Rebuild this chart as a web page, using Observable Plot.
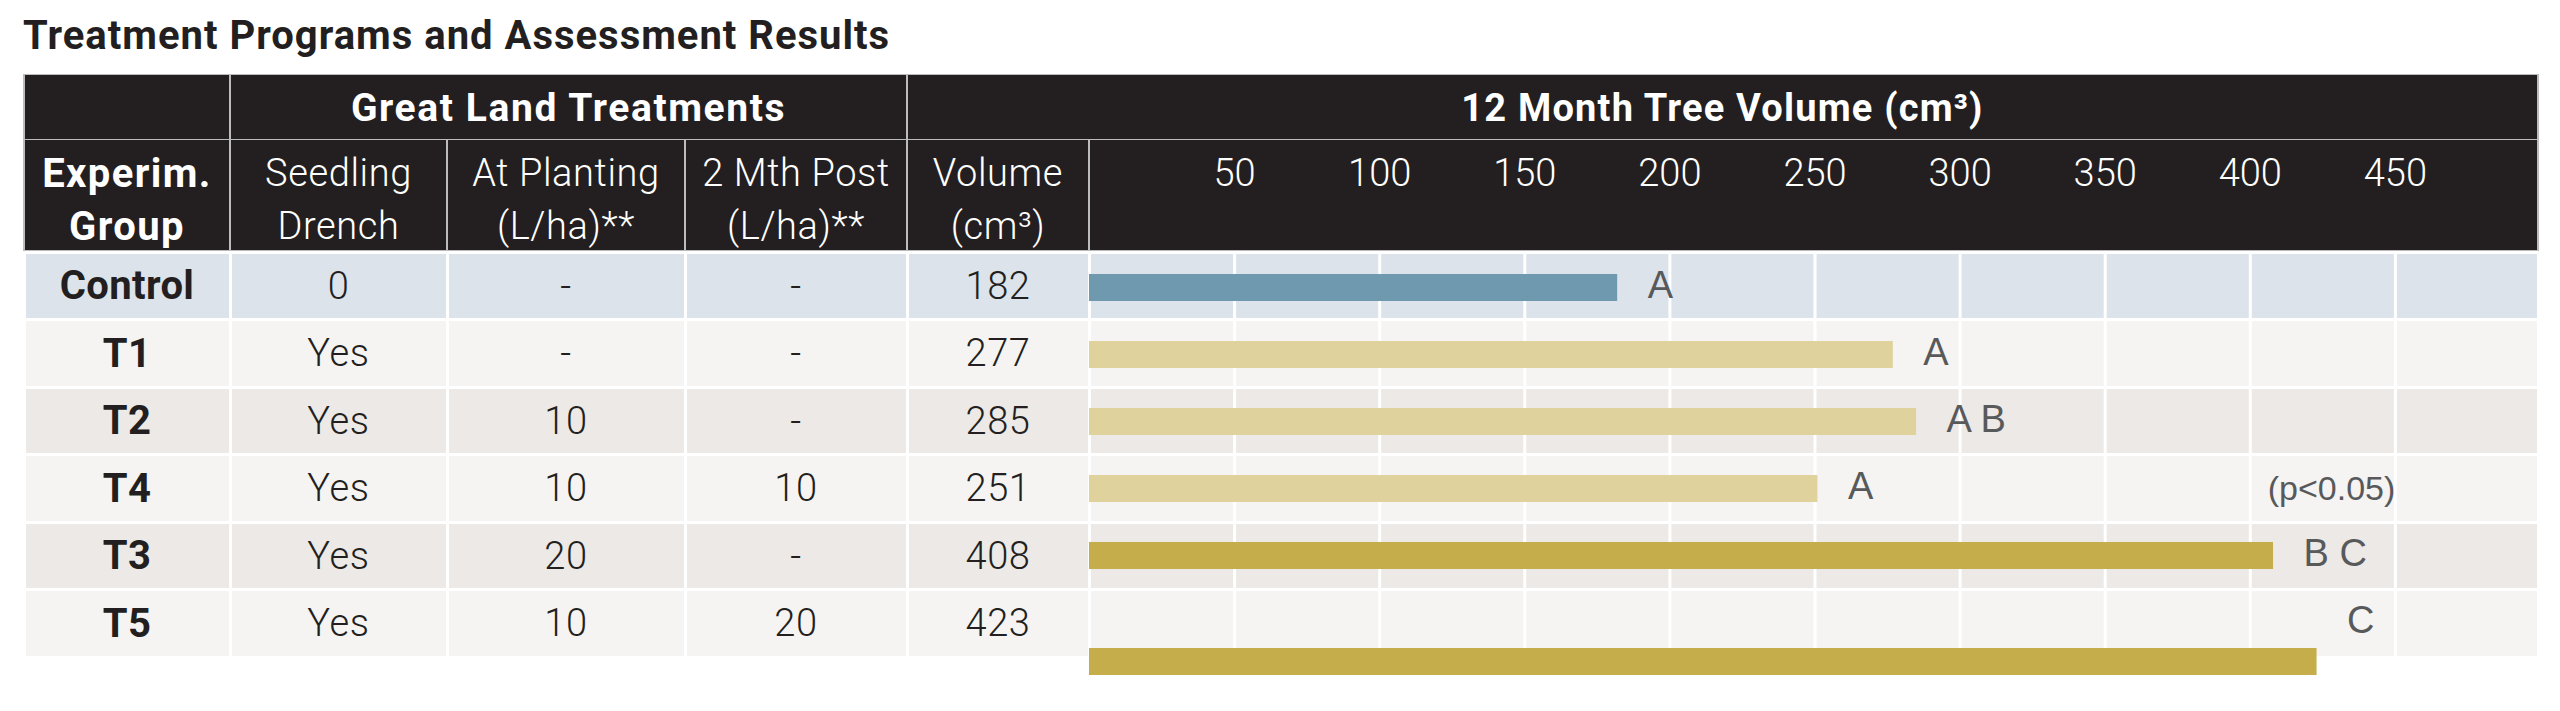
<!DOCTYPE html>
<html>
<head>
<meta charset="utf-8">
<script src="https://cdn.jsdelivr.net/npm/d3@7"></script>
<script src="https://cdn.jsdelivr.net/npm/@observablehq/plot@0.6"></script>
<style>
  html, body { margin: 0; padding: 0; background: #ffffff; }
  body { width: 2560px; height: 711px; position: relative; overflow: hidden; font-family: Roboto, "Open Sans", sans-serif; }
  .abs { position: absolute; box-sizing: border-box; }
  .cell { display: flex; align-items: center; justify-content: center; text-align: center; white-space: nowrap; }
  .hdr { background: #231f20; color: #ffffff; }
  .bold { font-weight: 700; }
  .light { font-weight: 300; letter-spacing: 0.6px; }
  .lines { line-height: 53px; padding-top: 10px; }
</style>
</head>
<body>
<div id="title" class="abs bold" style="left:23px; top:16px; font-size:40px; line-height:40px; letter-spacing:1px; color:#231f20; white-space:nowrap;">Treatment Programs and Assessment Results</div>
<div id="table"></div>
<script>
// ---------------- data ----------------
const groups        = ["Control", "T1", "T2", "T4", "T3", "T5"];
const seedlingDrench = ["0", "Yes", "Yes", "Yes", "Yes", "Yes"];
const atPlanting    = ["-", "-", "10", "10", "20", "10"];
const twoMthPost    = ["-", "-", "-", "10", "-", "20"];
const volume        = [182, 277, 285, 251, 408, 423];
const sigLetters    = ["A", "A", "A B", "A", "B C", "C"];
const tiers         = ["control", "standard", "standard", "standard", "high", "high"];
const xTickLabels   = [50, 100, 150, 200, 250, 300, 350, 400, 450];
const gridTicks     = [0, 50, 100, 150, 200, 250, 300, 350, 400, 450];
const pNote         = {text: "(p<0.05)", x: 428, group: "T4"};

const headerTop = ["", "Great Land Treatments", "12 Month Tree Volume (cm³)"];
const headerCols = [
  ["Experim.", "Group"],
  ["Seedling", "Drench"],
  ["At Planting", "(L/ha)**"],
  ["2 Mth Post", "(L/ha)**"],
  ["Volume", "(cm³)"]
];

// ---------------- layout ----------------
const colEdges = [24, 230, 447, 685, 907, 1089, 2538];
const hTop = 75, hMid = 139, hBot = 250;
const rowTop = 252, rowBottom = 657, H = 711, W = 2560;
const rowPitch = (rowBottom - rowTop) / groups.length;
const rowBg = ["#dce3ea", "#f5f4f2", "#ece9e6", "#f5f4f2", "#ece9e6", "#f5f4f2"];

const rows = groups.map((g, i) => ({
  group: g, drench: seedlingDrench[i], planting: atPlanting[i], post: twoMthPost[i],
  volume: volume[i], letters: sigLetters[i], tier: tiers[i]
}));

const table = document.getElementById("table");
function box(cls, left, top, width, height, styles, html) {
  const d = document.createElement("div");
  d.className = "abs " + cls;
  Object.assign(d.style, {left: left + "px", top: top + "px", width: width + "px", height: height + "px"}, styles || {});
  if (html != null) d.innerHTML = html;
  table.appendChild(d);
  return d;
}

// header backdrop (grey rules)
box("", colEdges[0] - 1, hTop - 1, colEdges[6] - colEdges[0] + 2, hBot - hTop + 2, {background: "#bdbcbc"});
// header row 1
const topSpans = [[0, 1], [1, 4], [4, 6]];
topSpans.forEach(([a, b], k) => {
  box("cell hdr bold", colEdges[a] + 1, hTop, colEdges[b] - colEdges[a] - 2, hMid - hTop,
      {fontSize: k === 1 ? "39px" : "38px", letterSpacing: k === 1 ? "1.6px" : "1.2px", paddingTop: "2px"}, headerTop[k]);
});
// header row 2
for (let c = 0; c < 6; c++) {
  const html = c < 5 ? headerCols[c].join("<br>") : "";
  const st = c === 0 ? {fontSize: "40px", letterSpacing: "1.4px"} : {fontSize: "38px"};
  box("cell hdr lines " + (c === 0 ? "bold" : "light"), colEdges[c] + 1, hMid + 1,
      colEdges[c + 1] - colEdges[c] - 2, hBot - hMid - 1, st, html);
}
// data rows
rows.forEach((r, i) => {
  const top = rowTop + i * rowPitch + 1.5;
  const h = rowPitch - 3;
  const vals = [r.group, r.drench, r.planting, r.post, String(r.volume), ""];
  for (let c = 0; c < 6; c++) {
    const st = {background: rowBg[i], color: "#231f20", fontSize: c === 0 ? "40px" : "38px"};
    if (c === 0) st.letterSpacing = "0.4px";
    box("cell " + (c === 0 ? "bold" : "light"), colEdges[c] + 1.5, top,
        colEdges[c + 1] - colEdges[c] - 3, h, st, vals[c]);
  }
});

// ---------------- chart ----------------
const chart = Plot.plot({
  width: W,
  height: H,
  marginLeft: colEdges[5],
  marginRight: W - 2540,
  marginTop: rowTop,
  marginBottom: H - rowBottom,
  style: {background: "transparent", overflow: "visible", fontFamily: "Roboto, sans-serif"},
  x: {domain: [0, 500]},
  y: {domain: groups, type: "band", padding: 0, axis: null},
  color: {domain: ["control", "standard", "high"], range: ["#6f99ae", "#dfd29c", "#c4ad4a"]},
  marks: [
    Plot.gridX(gridTicks, {stroke: "#ffffff", strokeOpacity: 1, strokeWidth: 3}),
    Plot.axisX(xTickLabels, {anchor: "top", tickSize: 0, tickPadding: 67, fontSize: 38,
      fill: "#ffffff", fontWeight: 300, tickFormat: d => String(d)}),
    Plot.barX(rows.filter(d => d.group !== "T5"), {x: "volume", y: "group", fill: "tier",
      insetTop: 20, insetBottom: 20}),
    Plot.barX(rows.filter(d => d.group === "T5"), {x: "volume", y: "group", fill: "tier",
      insetTop: 20, insetBottom: 20, dy: 39}),
    Plot.text(rows, {x: "volume", y: "group", text: "letters", textAnchor: "start", dx: 30, dy: -2,
      fontSize: 38, fill: "#58595b", fontFamily: "'Liberation Sans', Arial, sans-serif"}),
    Plot.text([pNote], {x: "x", y: "group", text: "text", textAnchor: "middle", dy: 0,
      fontSize: 34, fill: "#58595b", fontFamily: "'Liberation Sans', Arial, sans-serif"})
  ]
});
chart.style.position = "absolute";
chart.style.left = "0px";
chart.style.top = "0px";
document.body.appendChild(chart);
</script>
</body>
</html>
